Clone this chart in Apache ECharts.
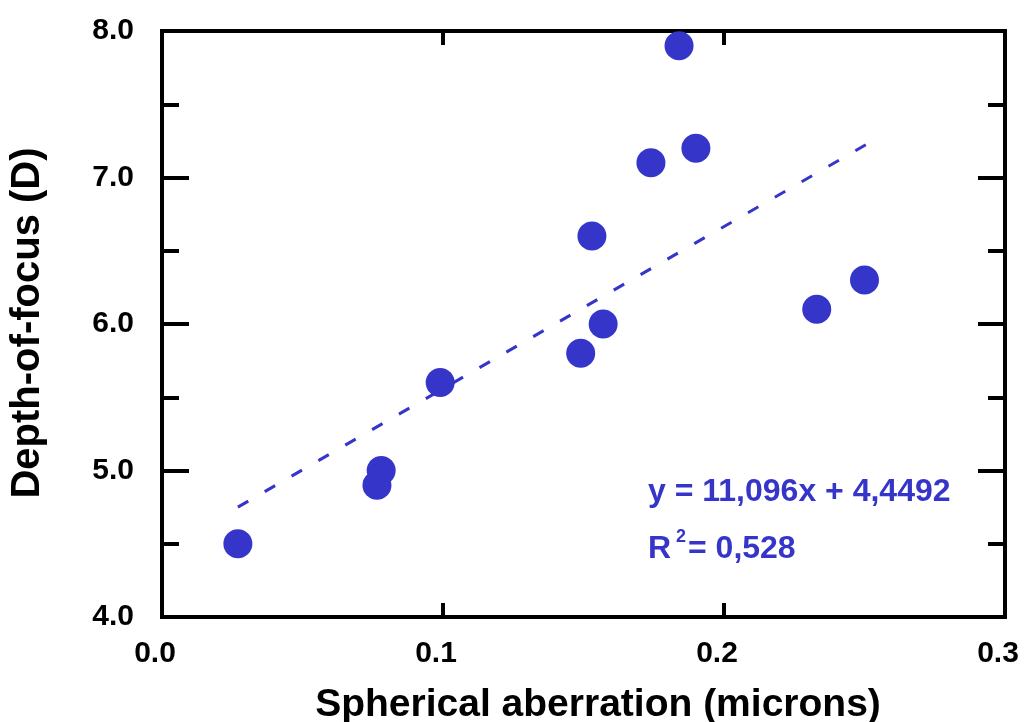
<!DOCTYPE html>
<html>
<head>
<meta charset="utf-8">
<script src="https://cdn.jsdelivr.net/npm/echarts@6/dist/echarts.min.js"></script>
<style>
html,body{margin:0;padding:0;background:#fff;}
#chart{width:1026px;height:722px;}
</style>
</head>
<body>
<div id="chart"></div>
<script>
// Data
var sphericalAberration = [0.027, 0.0765, 0.078, 0.099, 0.149, 0.157, 0.153, 0.174, 0.184, 0.190, 0.233, 0.250];
var depthOfFocus        = [4.5,   4.9,    5.0,   5.6,   5.8,   6.0,   6.6,   7.1,   7.9,   7.2,   6.1,   6.3];
var trendX = [0.027, 0.251];
var trendY = [4.75, 7.23];
var xTickLabels = ['0.0', '0.1', '0.2', '0.3'];
var yTickLabels = ['4.0', '5.0', '6.0', '7.0', '8.0'];
var xTitle = 'Spherical aberration (microns)';
var yTitle = 'Depth-of-focus (D)';
var eqLine1 = 'y = 11,096x + 4,4492';
var eqR = 'R';
var eqSup = '2';
var eqLine2 = '= 0,528';

var BLUE = '#3535C9';
var FONT = '"Liberation Sans", Arial, Helvetica, sans-serif';

var chart = echarts.init(document.getElementById('chart'), null, {renderer: 'canvas'});

function pts(xs, ys) { return xs.map(function (x, i) { return [x, ys[i]]; }); }
function xFmt(v) { var i = Math.round(v / 0.1); return xTickLabels[i] !== undefined ? xTickLabels[i] : ''; }
function yFmt(v) { var i = Math.round(v - 4); return yTickLabels[i] !== undefined ? yTickLabels[i] : ''; }

var tickStyle = {color: '#000', width: 4};
var noLine = {show: false, onZero: false};

var option = {
  animation: false,
  backgroundColor: '#fff',
  grid: {left: 162, right: 21, top: 31, bottom: 105, show: true, borderColor: '#000', borderWidth: 4, backgroundColor: 'transparent'},
  xAxis: [
    {type: 'value', position: 'bottom', min: 0, max: 0.3, interval: 0.1,
     axisLine: noLine, splitLine: {show: false},
     axisTick: {show: true, inside: true, length: 14, lineStyle: tickStyle},
     axisLabel: {show: true, formatter: xFmt, margin: 22, padding: [0, 14, 0, 0],
                 fontFamily: FONT, fontWeight: 'bold', fontSize: 30, color: '#000'}},
    {type: 'value', position: 'top', min: 0, max: 0.3, interval: 0.1,
     axisLine: noLine, splitLine: {show: false},
     axisTick: {show: true, inside: true, length: 14, lineStyle: tickStyle},
     axisLabel: {show: false}}
  ],
  yAxis: [
    {type: 'value', position: 'left', min: 4, max: 8, interval: 1,
     axisLine: noLine, splitLine: {show: false},
     axisTick: {show: true, inside: true, length: 27, lineStyle: tickStyle},
     minorTick: {show: true, splitNumber: 2, length: 17, lineStyle: tickStyle},
     axisLabel: {show: true, formatter: yFmt, margin: 28,
                 fontFamily: FONT, fontWeight: 'bold', fontSize: 30, color: '#000'}},
    {type: 'value', position: 'right', min: 4, max: 8, interval: 1,
     axisLine: noLine, splitLine: {show: false},
     axisTick: {show: true, inside: true, length: 27, lineStyle: tickStyle},
     minorTick: {show: true, splitNumber: 2, length: 17, lineStyle: tickStyle},
     axisLabel: {show: false}}
  ],
  series: [
    {type: 'line', xAxisIndex: 0, yAxisIndex: 0, data: pts(trendX, trendY),
     symbol: 'none', silent: true,
     lineStyle: {color: BLUE, width: 3, type: [12, 19], cap: 'butt'}, z: 2},
    {type: 'scatter', xAxisIndex: 0, yAxisIndex: 0, data: pts(sphericalAberration, depthOfFocus),
     symbol: 'circle', symbolSize: 29, itemStyle: {color: BLUE, opacity: 1}, z: 3}
  ],
  graphic: [
    {type: 'text', x: 598, y: 705, style: {text: xTitle, fill: '#000', font: 'bold 39px ' + FONT, textAlign: 'center', textVerticalAlign: 'middle'}},
    {type: 'text', x: 28, y: 323, rotation: Math.PI / 2, style: {text: yTitle, fill: '#000', font: 'bold 40px ' + FONT, textAlign: 'center', textVerticalAlign: 'middle'}},
    {type: 'text', x: 648, y: 492, style: {text: eqLine1, fill: BLUE, font: 'bold 32px ' + FONT, textAlign: 'left', textVerticalAlign: 'middle'}},
    {type: 'text', x: 648, y: 549, style: {text: eqR, fill: BLUE, font: 'bold 32px ' + FONT, textAlign: 'left', textVerticalAlign: 'middle'}},
    {type: 'text', x: 676, y: 537, style: {text: eqSup, fill: BLUE, font: 'bold 18px ' + FONT, textAlign: 'left', textVerticalAlign: 'middle'}},
    {type: 'text', x: 688, y: 549, style: {text: eqLine2, fill: BLUE, font: 'bold 32px ' + FONT, textAlign: 'left', textVerticalAlign: 'middle'}}
  ]
};
chart.setOption(option);
</script>
</body>
</html>
